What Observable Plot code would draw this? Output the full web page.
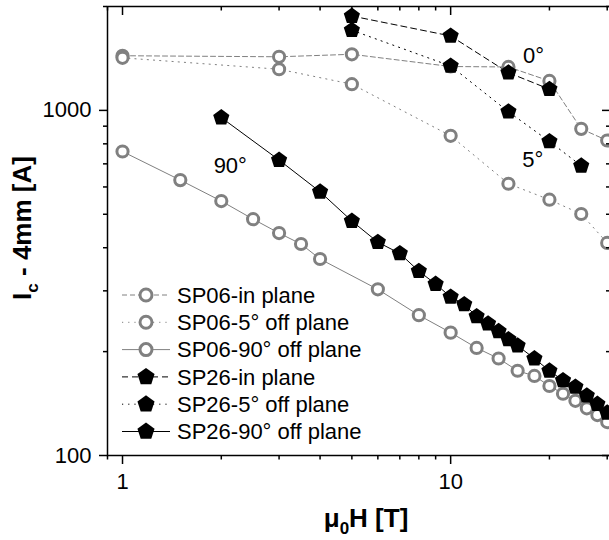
<!DOCTYPE html>
<html><head><meta charset="utf-8">
<script src="https://cdn.jsdelivr.net/npm/d3@7"></script>
<script src="https://cdn.jsdelivr.net/npm/@observablehq/plot@0.6"></script>
<style>body{margin:0;overflow:hidden;background:#fff}</style>
</head><body><div id="chart"></div>
<script>
// ---- data ----
const seriesNames = ["SP06-in plane", "SP06-5° off plane", "SP06-90° off plane",
                     "SP26-in plane", "SP26-5° off plane", "SP26-90° off plane"];

const sp06InX  = [1, 3, 5, 10, 15, 20, 25, 30];
const sp06InY  = [1440, 1430, 1454, 1340, 1336, 1217, 884, 818];
const sp06FiveX = [1, 3, 5, 10, 15, 20, 25, 30];
const sp06FiveY = [1420, 1316, 1191, 844, 613, 551, 501, 413];
const sp06NinetyX = [1, 1.5, 2, 2.5, 3, 3.5, 4, 6, 8, 10, 12, 14, 16, 18, 20, 22, 24, 26, 28, 30];
const sp06NinetyY = [760, 628, 546, 484, 441, 410, 371, 303, 255, 227, 205, 191, 176, 170, 159, 151, 144, 137, 131, 125];
const sp26InX  = [5, 10, 15, 20];
const sp26InY  = [1877, 1643, 1286, 1152];
const sp26FiveX = [5, 10, 15, 20, 25];
const sp26FiveY = [1707, 1345, 991, 813, 691];
const sp26NinetyX = [2, 3, 4, 5, 6, 7, 8, 9, 10, 11, 12, 13, 14, 15, 16, 18, 20, 22, 24, 26, 28, 30];
const sp26NinetyY = [953, 718, 581, 478, 415, 385, 342, 314, 288, 274, 253, 241, 229, 217, 208, 191, 176, 165, 158, 149, 141, 133];

const xMajorTicks = [1, 10];
const xMinorTicks = [0.9, 2, 3, 4, 5, 6, 7, 8, 9, 20, 30];
const yMajorTicks = [100, 1000];
const yMinorTicks = [200, 300, 400, 500, 600, 700, 800, 900, 2000];

const annLabels = ["0°", "5°", "90°"];
const annX = [17.9, 17.8, 2.13];
const annY = [1438, 719, 691];

// ---- styles ----
const GRAY = "#808080";
const CIRCLE_R = 5.6, CIRCLE_SW = 3, PENT_R = 8.5;
const seriesX = [sp06InX, sp06FiveX, sp06NinetyX, sp26InX, sp26FiveX, sp26NinetyX];
const seriesY = [sp06InY, sp06FiveY, sp06NinetyY, sp26InY, sp26FiveY, sp26NinetyY];
const seriesStyle = [
  {color: GRAY, dash: "5,3", kind: "circle"},
  {color: GRAY, dash: "1.2,5", kind: "circle"},
  {color: GRAY, dash: null, kind: "circle"},
  {color: "black", dash: "6,4", kind: "pentagon"},
  {color: "black", dash: "1.2,5", kind: "pentagon"},
  {color: "black", dash: null, kind: "pentagon"}
];

const series = seriesNames.map((name, i) => ({
  name, style: seriesStyle[i],
  data: seriesX[i].map((x, j) => ({series: name, x, y: seriesY[i][j]}))
}));
const annotations = annLabels.map((t, i) => ({t, x: annX[i], y: annY[i]}));

const pentagon = {
  draw(context, size) {
    const r = Math.sqrt(size / Math.PI);
    for (let i = 0; i < 5; i++) {
      const a = -Math.PI / 2 + i * 2 * Math.PI / 5;
      const px = r * Math.cos(a), py = r * Math.sin(a);
      if (i) context.lineTo(px, py); else context.moveTo(px, py);
    }
    context.closePath();
  }
};

const lineMarks = series.map(s => Plot.line(s.data, {
  x: "x", y: "y", stroke: s.style.color, strokeWidth: 1,
  strokeDasharray: s.style.dash || undefined
}));
const dotMarks = series.map(s => s.style.kind === "circle"
  ? Plot.dot(s.data, {x: "x", y: "y", r: CIRCLE_R, stroke: GRAY, strokeWidth: CIRCLE_SW, fill: "white"})
  : Plot.dot(s.data, {x: "x", y: "y", r: PENT_R, symbol: pentagon, fill: "black", stroke: "none"}));

const chart = Plot.plot({
  width: 609, height: 540,
  marginLeft: 107, marginRight: -1, marginTop: 6, marginBottom: 85,
  x: {type: "log", domain: [0.9, 30.7]},
  y: {type: "log", domain: [100, 2000]},
  style: {fontFamily: "'Liberation Sans', Arial, sans-serif", fontSize: "22px", color: "black", background: "white"},
  marks: [
    ...lineMarks,
    ...dotMarks.slice(0, 3),
    ...dotMarks.slice(3),
    Plot.text(annotations, {x: "x", y: "y", text: "t", fontSize: 22, fill: "black", textAnchor: "middle"}),
    Plot.frame({stroke: "black", strokeWidth: 1.5}),
    Plot.axisX(xMajorTicks, {anchor: "bottom", tickSize: 9, tickPadding: 9, strokeWidth: 1.5, label: null, tickFormat: d => String(d), fill: "black"}),
    Plot.axisX(xMinorTicks, {anchor: "bottom", tickSize: 4.5, strokeWidth: 1.5, label: null, tickFormat: () => ""}),
    Plot.axisX(xMajorTicks, {anchor: "bottom", frameAnchor: "top", tickSize: 9, strokeWidth: 1.5, label: null, tickFormat: () => ""}),
    Plot.axisX(xMinorTicks, {anchor: "bottom", frameAnchor: "top", tickSize: 4.5, strokeWidth: 1.5, label: null, tickFormat: () => ""}),
    Plot.axisY(yMajorTicks, {anchor: "left", tickSize: 8, tickPadding: 8, strokeWidth: 1.5, label: null, tickFormat: d => String(d), fill: "black"}),
    Plot.axisY(yMinorTicks, {anchor: "left", tickSize: 4, strokeWidth: 1.5, label: null, tickFormat: () => ""}),
    Plot.axisY(yMajorTicks, {anchor: "left", frameAnchor: "right", tickSize: 8, strokeWidth: 1.5, label: null, tickFormat: () => ""}),
    Plot.axisY(yMinorTicks, {anchor: "left", frameAnchor: "right", tickSize: 4, strokeWidth: 1.5, label: null, tickFormat: () => ""})
  ]
});
document.getElementById("chart").appendChild(chart);

const svg = d3.select(chart);
const font = "'Liberation Sans', Arial, sans-serif";

// axis titles
const xt = svg.append("text").attr("x", 366).attr("y", 527).attr("text-anchor", "middle")
  .attr("font-family", font).attr("font-weight", "bold").attr("font-size", 26).attr("fill", "black");
xt.append("tspan").text("μ");
xt.append("tspan").attr("font-size", 17).attr("dy", 7).text("0");
xt.append("tspan").attr("dy", -7).text("H [T]");

const yt = svg.append("text").attr("transform", "translate(31,228) rotate(-90)").attr("text-anchor", "middle")
  .attr("font-family", font).attr("font-weight", "bold").attr("font-size", 26).attr("fill", "black");
yt.append("tspan").text("I");
yt.append("tspan").attr("font-size", 17).attr("dy", 7).text("c");
yt.append("tspan").attr("dy", -7).text(" - 4mm [A]");

// legend
const lg = svg.append("g").attr("text-anchor", "start");
series.forEach((s, i) => {
  const cy = 295 + i * 27.3;
  const row = lg.append("g").attr("transform", `translate(0,${cy})`);
  row.append("line").attr("x1", 122).attr("x2", 170).attr("y1", 0).attr("y2", 0)
    .attr("stroke", s.style.color).attr("stroke-width", 1)
    .attr("stroke-dasharray", s.style.dash);
  if (s.style.kind === "circle") {
    row.append("circle").attr("cx", 146).attr("cy", 0).attr("r", CIRCLE_R + 0.4)
      .attr("fill", "white").attr("stroke", GRAY).attr("stroke-width", CIRCLE_SW);
  } else {
    const p = d3.path();
    pentagon.draw(p, Math.PI * (PENT_R + 0.5) * (PENT_R + 0.5));
    row.append("path").attr("transform", "translate(146,0)").attr("d", p.toString()).attr("fill", "black");
  }
  row.append("text").attr("x", 177).attr("y", 0).attr("dy", "0.35em").attr("text-anchor", "start")
    .attr("font-family", font).attr("font-size", 22).attr("fill", "black").text(s.name);
});
</script></body></html>
